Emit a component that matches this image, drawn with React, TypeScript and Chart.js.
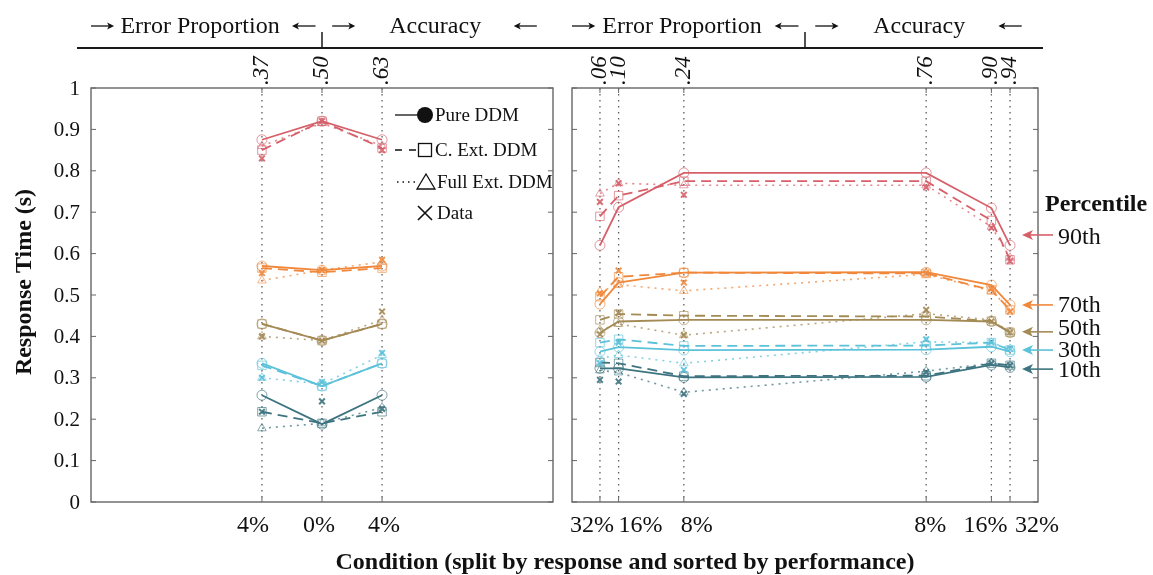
import { useEffect, useRef } from 'react';
import { Chart, registerables } from 'chart.js';

Chart.register(...registerables);

const SERIF = '"Liberation Serif", "Times New Roman", Times, serif';

// Condition positions (error proportion) for each panel
const LEFT_X = [0.37, 0.5, 0.63];
const RIGHT_X = [0.06, 0.1, 0.24, 0.76, 0.9, 0.94];
const LEFT_TOP_LABELS = ['.37', '.50', '.63'];
const RIGHT_TOP_LABELS = ['.06', '.10', '.24', '.76', '.90', '.94'];
const LEFT_BOTTOM_LABELS = ['4%', '0%', '4%'];
const RIGHT_BOTTOM_LABELS = ['32%', '16%', '8%', '8%', '16%', '32%'];
const Y_TICKS = [0, 0.1, 0.2, 0.3, 0.4, 0.5, 0.6, 0.7, 0.8, 0.9, 1];
const Y_TICK_LABELS = ['0', '0.1', '0.2', '0.3', '0.4', '0.5', '0.6', '0.7', '0.8', '0.9', '1'];

const MODELS = ['Pure DDM', 'C. Ext. DDM', 'Full Ext. DDM', 'Data'];
const PERCENTILES = ['90th', '70th', '50th', '30th', '10th'];
const COLORS = ['#d6606a', '#f0883c', '#a48a55', '#5cc2da', '#3d7480'];
// Response-time level each percentile arrow points at
const PERCENTILE_ARROW_AT = [0.645, 0.476, 0.411, 0.367, 0.321];

// Rows: Pure DDM, C. Ext. DDM, Full Ext. DDM, Data
const P90_LEFT = [
  [0.875, 0.92, 0.875],
  [0.85, 0.92, 0.855],
  [0.86, 0.915, 0.86],
  [0.83, 0.92, 0.85],
];
const P70_LEFT = [
  [0.57, 0.56, 0.57],
  [0.565, 0.555, 0.565],
  [0.535, 0.56, 0.58],
  [0.553, 0.56, 0.585],
];
const P50_LEFT = [
  [0.43, 0.39, 0.43],
  [0.43, 0.39, 0.43],
  [0.4, 0.39, 0.44],
  [0.4, 0.39, 0.46],
];
const P30_LEFT = [
  [0.335, 0.28, 0.335],
  [0.33, 0.28, 0.335],
  [0.3, 0.285, 0.355],
  [0.3, 0.29, 0.36],
];
const P10_LEFT = [
  [0.258, 0.188, 0.258],
  [0.218, 0.19, 0.218],
  [0.178, 0.19, 0.228],
  [0.218, 0.243, 0.225],
];

const P90_RIGHT = [
  [0.62, 0.712, 0.795, 0.795, 0.71, 0.62],
  [0.69, 0.74, 0.775, 0.775, 0.68, 0.585],
  [0.745, 0.77, 0.765, 0.765, 0.665, 0.59],
  [0.725, 0.77, 0.742, 0.76, 0.662, 0.582],
];
const P70_RIGHT = [
  [0.478, 0.53, 0.554, 0.555, 0.524, 0.476],
  [0.496, 0.544, 0.554, 0.552, 0.512, 0.464],
  [0.508, 0.525, 0.51, 0.55, 0.51, 0.465],
  [0.504, 0.559, 0.53, 0.553, 0.515, 0.46],
];
const P50_RIGHT = [
  [0.409, 0.436, 0.44, 0.44, 0.436, 0.409],
  [0.44, 0.454, 0.45, 0.448, 0.437, 0.41],
  [0.415, 0.43, 0.403, 0.455, 0.44, 0.41],
  [0.405, 0.457, 0.403, 0.464, 0.436, 0.41],
];
const P30_RIGHT = [
  [0.363, 0.374, 0.367, 0.368, 0.375, 0.363],
  [0.385, 0.393, 0.377, 0.378, 0.385, 0.367],
  [0.347, 0.355, 0.335, 0.387, 0.385, 0.37],
  [0.335, 0.385, 0.319, 0.393, 0.386, 0.37],
];
const P10_RIGHT = [
  [0.323, 0.323, 0.301, 0.302, 0.331, 0.325],
  [0.337, 0.335, 0.304, 0.305, 0.335, 0.33],
  [0.318, 0.313, 0.265, 0.316, 0.335, 0.33],
  [0.295, 0.291, 0.261, 0.314, 0.335, 0.33],
];

const LEFT_SETS = [P90_LEFT, P70_LEFT, P50_LEFT, P30_LEFT, P10_LEFT];
const RIGHT_SETS = [P90_RIGHT, P70_RIGHT, P50_RIGHT, P30_RIGHT, P10_RIGHT];

function rgba(hex: string, a: number) {
  const n = parseInt(hex.slice(1), 16);
  return `rgba(${(n >> 16) & 255},${(n >> 8) & 255},${n & 255},${a})`;
}

function modelStyle(model: number, color: string) {
  const clear = 'rgba(255,255,255,0)';
  if (model === 0) {
    return {
      borderColor: color, borderWidth: 1.8, borderDash: [],
      pointStyle: 'circle', pointRadius: 5, pointBorderWidth: 1,
      pointBorderColor: rgba(color, 0.65), pointBackgroundColor: clear,
    };
  }
  if (model === 1) {
    return {
      borderColor: color, borderWidth: 1.8, borderDash: [10, 6],
      pointStyle: 'rect', pointRadius: 6, pointBorderWidth: 1,
      pointBorderColor: rgba(color, 0.65), pointBackgroundColor: clear,
    };
  }
  if (model === 2) {
    return {
      borderColor: rgba(color, 0.75), borderWidth: 1.6, borderDash: [2, 5],
      pointStyle: 'triangle', pointRadius: 5, pointBorderWidth: 1,
      pointBorderColor: rgba(color, 0.6), pointBackgroundColor: clear,
    };
  }
  return {
    borderColor: color, showLine: false,
    pointStyle: 'crossRot', pointRadius: 4, pointBorderWidth: 2,
    pointBorderColor: rgba(color, 0.9), pointBackgroundColor: clear,
  };
}

function buildDatasets() {
  const out: any[] = [];
  const panels = [
    { xs: LEFT_X, sets: LEFT_SETS, axis: 'xL' },
    { xs: RIGHT_X, sets: RIGHT_SETS, axis: 'xR' },
  ];
  panels.forEach((panel) => {
    panel.sets.forEach((rows, pi) => {
      rows.forEach((vals, mi) => {
        out.push({
          label: `${PERCENTILES[pi]} ${MODELS[mi]}`,
          data: vals.map((v, i) => ({ x: panel.xs[i], y: v })),
          xAxisID: panel.axis,
          yAxisID: 'y',
          fill: false,
          tension: 0,
          ...modelStyle(mi, COLORS[pi]),
        });
      });
    });
  });
  return out;
}

function arrow(ctx: CanvasRenderingContext2D, tail: number, head: number, y: number,
  color: string, lw: number, len: number, half: number) {
  const dir = Math.sign(head - tail);
  ctx.strokeStyle = color;
  ctx.fillStyle = color;
  ctx.lineWidth = lw;
  ctx.setLineDash([]);
  ctx.beginPath();
  ctx.moveTo(tail, y);
  ctx.lineTo(head - dir * len * 0.7, y);
  ctx.stroke();
  ctx.beginPath();
  ctx.moveTo(head, y);
  ctx.lineTo(head - dir * len, y - half);
  ctx.lineTo(head - dir * len * 0.75, y);
  ctx.lineTo(head - dir * len, y + half);
  ctx.closePath();
  ctx.fill();
}

// Horizontal pixel nudges so crowded condition labels do not collide
const LEFT_LABEL_NUDGE = [-9, -3, 2];
const RIGHT_LABEL_NUDGE = [-8, 22, 13, 4, -6, 27];
const PERCENTILE_LABEL_NUDGE = [2, 0, -4, 0, 1];

const decor = {
  id: 'decor',
  beforeDatasetsDraw(chart: any) {
    const { ctx } = chart;
    const y = chart.scales.y;
    const top = y.getPixelForValue(1);
    const bottom = y.getPixelForValue(0);
    const panels = [
      { s: chart.scales.xL, xs: LEFT_X },
      { s: chart.scales.xR, xs: RIGHT_X },
    ];
    ctx.save();
    panels.forEach(({ s, xs }) => {
      const l = s.getPixelForValue(0);
      const r = s.getPixelForValue(1);
      // dotted guides at each condition
      ctx.strokeStyle = '#5e5e5e';
      ctx.lineWidth = 1.3;
      ctx.setLineDash([1.6, 4.4]);
      xs.forEach((v) => {
        const px = s.getPixelForValue(v);
        ctx.beginPath();
        ctx.moveTo(px, top);
        ctx.lineTo(px, bottom);
        ctx.stroke();
      });
      ctx.setLineDash([]);
      ctx.strokeStyle = '#666';
      ctx.lineWidth = 1.4;
      ctx.strokeRect(l, top, r - l, bottom - top);
      ctx.lineWidth = 1;
      Y_TICKS.forEach((t) => {
        const py = y.getPixelForValue(t);
        ctx.beginPath();
        ctx.moveTo(l, py); ctx.lineTo(l + 5, py);
        ctx.moveTo(r, py); ctx.lineTo(r - 5, py);
        ctx.stroke();
      });
      xs.forEach((v) => {
        const px = s.getPixelForValue(v);
        ctx.beginPath();
        ctx.moveTo(px, bottom); ctx.lineTo(px, bottom - 5);
        ctx.moveTo(px, top); ctx.lineTo(px, top + 5);
        ctx.stroke();
      });
    });
    ctx.restore();
  },
  afterDraw(chart: any) {
    const { ctx, chartArea } = chart;
    const y = chart.scales.y;
    const xL = chart.scales.xL;
    const xR = chart.scales.xR;
    ctx.save();
    ctx.fillStyle = '#111';

    // y tick labels
    ctx.font = `21px ${SERIF}`;
    ctx.textAlign = 'right';
    ctx.textBaseline = 'middle';
    Y_TICKS.forEach((t, i) => {
      ctx.fillText(Y_TICK_LABELS[i], 80, y.getPixelForValue(t) + 1);
    });

    // y title
    ctx.save();
    ctx.translate(25, 282);
    ctx.rotate(-Math.PI / 2);
    ctx.textAlign = 'center';
    ctx.textBaseline = 'middle';
    ctx.font = `bold 24px ${SERIF}`;
    ctx.fillText('Response Time (s)', 0, 0);
    ctx.restore();

    // condition labels (rotated, above) and percent labels (below)
    const bottom = y.getPixelForValue(0);
    const top = y.getPixelForValue(1);
    const drawLabels = (s: any, xs: number[], tops: string[], bots: string[], nudge: number[]) => {
      xs.forEach((v, i) => {
        const px = s.getPixelForValue(v);
        ctx.save();
        ctx.translate(px, top - 3);
        ctx.rotate(-Math.PI / 2);
        ctx.font = `italic 23px ${SERIF}`;
        ctx.textAlign = 'left';
        ctx.textBaseline = 'middle';
        ctx.fillText(tops[i], 0, 0);
        ctx.restore();
        ctx.font = `24px ${SERIF}`;
        ctx.textAlign = 'center';
        ctx.textBaseline = 'alphabetic';
        ctx.fillText(bots[i], px + nudge[i], bottom + 30);
      });
    };
    drawLabels(xL, LEFT_X, LEFT_TOP_LABELS, LEFT_BOTTOM_LABELS, LEFT_LABEL_NUDGE);
    drawLabels(xR, RIGHT_X, RIGHT_TOP_LABELS, RIGHT_BOTTOM_LABELS, RIGHT_LABEL_NUDGE);

    // x title
    ctx.font = `bold 24px ${SERIF}`;
    ctx.textAlign = 'center';
    ctx.fillText('Condition (split by response and sorted by performance)', 625, 569);

    // header band
    const hy = 48;
    ctx.strokeStyle = '#1a1a1a';
    ctx.lineWidth = 1.8;
    ctx.beginPath();
    ctx.moveTo(chartArea.left - 14, hy);
    ctx.lineTo(chartArea.right + 5, hy);
    ctx.stroke();
    [xL, xR].forEach((s) => {
      const at = (f: number) => s.getPixelForValue(f);
      ctx.strokeStyle = '#1a1a1a';
      ctx.lineWidth = 1.5;
      ctx.beginPath();
      ctx.moveTo(at(0.5), hy - 16);
      ctx.lineTo(at(0.5), hy);
      ctx.stroke();
      ctx.fillStyle = '#111';
      ctx.font = `24px ${SERIF}`;
      ctx.textAlign = 'center';
      ctx.textBaseline = 'alphabetic';
      ctx.fillText('Error Proportion', at(0.236), 33);
      ctx.fillText('Accuracy', at(0.745), 33);
      arrow(ctx, at(0.0), at(0.05), 26, '#111', 1.3, 7, 3.5);
      arrow(ctx, at(0.486), at(0.435), 26, '#111', 1.3, 7, 3.5);
      arrow(ctx, at(0.522), at(0.572), 26, '#111', 1.3, 7, 3.5);
      arrow(ctx, at(0.965), at(0.915), 26, '#111', 1.3, 7, 3.5);
    });

    // legend
    const lx = 395;
    const ly = [115, 150, 182, 213];
    ctx.strokeStyle = '#111';
    ctx.fillStyle = '#111';
    ctx.lineWidth = 1.3;
    ctx.setLineDash([]);
    ctx.beginPath(); ctx.moveTo(lx, ly[0]); ctx.lineTo(lx + 24, ly[0]); ctx.stroke();
    ctx.beginPath(); ctx.arc(lx + 30, ly[0], 8, 0, Math.PI * 2); ctx.fill();
    ctx.setLineDash([7, 7]);
    ctx.beginPath(); ctx.moveTo(lx, ly[1]); ctx.lineTo(lx + 23, ly[1]); ctx.stroke();
    ctx.setLineDash([]);
    ctx.strokeRect(lx + 23.5, ly[1] - 6.5, 13, 13);
    ctx.setLineDash([1.5, 4]);
    ctx.beginPath(); ctx.moveTo(lx + 2, ly[2]); ctx.lineTo(lx + 20, ly[2]); ctx.stroke();
    ctx.setLineDash([]);
    ctx.beginPath();
    ctx.moveTo(lx + 31, ly[2] - 8);
    ctx.lineTo(lx + 40, ly[2] + 7);
    ctx.lineTo(lx + 22, ly[2] + 7);
    ctx.closePath();
    ctx.stroke();
    ctx.lineWidth = 1.6;
    ctx.beginPath();
    ctx.moveTo(lx + 23, ly[3] - 7); ctx.lineTo(lx + 37, ly[3] + 7);
    ctx.moveTo(lx + 37, ly[3] - 7); ctx.lineTo(lx + 23, ly[3] + 7);
    ctx.stroke();
    ctx.font = `19px ${SERIF}`;
    ctx.textAlign = 'left';
    ctx.textBaseline = 'middle';
    MODELS.forEach((m, i) => {
      ctx.fillText(m, lx + (i >= 2 ? 42 : 40), ly[i] + 1);
    });

    // percentile annotations
    ctx.font = `bold 24px ${SERIF}`;
    ctx.textBaseline = 'alphabetic';
    ctx.fillText('Percentile', 1045, 211);
    ctx.font = `24px ${SERIF}`;
    PERCENTILES.forEach((p, i) => {
      const py = y.getPixelForValue(PERCENTILE_ARROW_AT[i]);
      arrow(ctx, chartArea.right + 15, chartArea.right - 16, py, COLORS[i], 1.6, 11, 5);
      ctx.fillStyle = '#111';
      ctx.textBaseline = 'middle';
      ctx.fillText(p, 1058, py + PERCENTILE_LABEL_NUDGE[i] + 1);
    });
    ctx.restore();
  },
};

export default function App() {
  const ref = useRef<HTMLCanvasElement>(null);
  useEffect(() => {
    const chart = new Chart(ref.current as HTMLCanvasElement, {
      type: 'line',
      data: { datasets: buildDatasets() },
      options: {
        animation: false,
        responsive: false,
        devicePixelRatio: 1,
        layout: { padding: { left: 91, right: 115, top: 88, bottom: 73 } },
        plugins: { legend: { display: false }, tooltip: { enabled: false } },
        scales: {
          xL: { type: 'linear', axis: 'x', position: 'bottom', min: 0, max: 947 / 462, display: false },
          xR: { type: 'linear', axis: 'x', position: 'bottom', min: -481 / 466, max: 1, display: false },
          y: { type: 'linear', axis: 'y', min: 0, max: 1, display: false },
        },
      } as any,
      plugins: [decor as any],
    });
    return () => chart.destroy();
  }, []);
  return (
    <div style={{ position: 'absolute', left: 0, top: 0, width: 1153, height: 575, background: '#fff' }}>
      <canvas ref={ref} width={1153} height={575} style={{ display: 'block' }} />
    </div>
  );
}
